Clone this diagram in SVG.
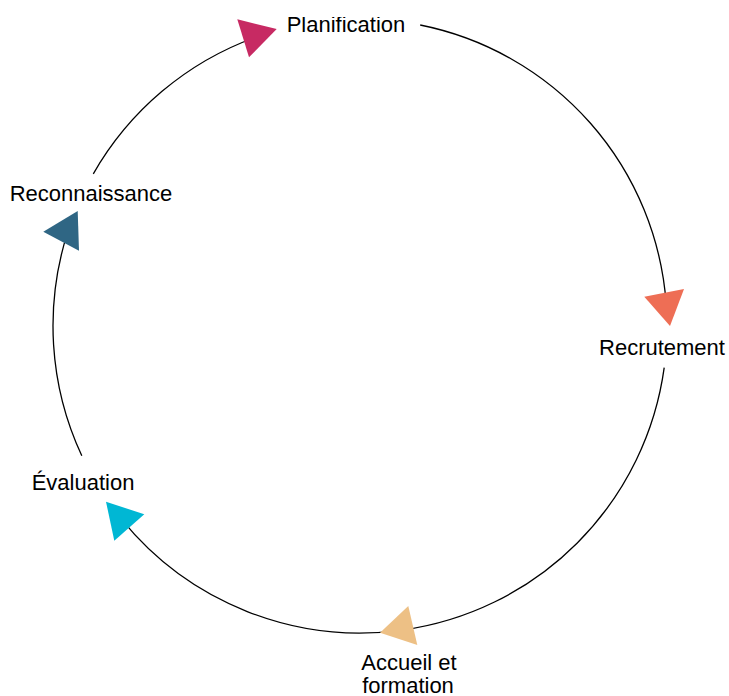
<svg xmlns="http://www.w3.org/2000/svg" width="729" height="696" viewBox="0 0 729 696">
  <style>
    .lbl { font-family: "Liberation Sans", Arial, sans-serif; font-size: 22px; fill: #000; text-anchor: middle; }
    .arc { fill: none; stroke: #000; stroke-width: 1.3; }
  </style>
  <defs>
    <clipPath id="topclip"><rect x="0" y="17" width="729" height="679"/></clipPath>
  </defs>
  <rect width="729" height="696" fill="#fff"/>
  <g id="connectors">
    <path class="arc" d="M420.2,25 A307,307 0 0 1 666.2,304"/>
    <path class="arc" d="M664.2,367.7 A307,307 0 0 1 402.2,630.1"/>
    <path class="arc" d="M402.2,630.1 A307,307 0 0 1 121.4,519.2"/>
    <path class="arc" d="M81.8,455.7 A307,307 0 0 1 68,231.1"/>
    <path class="arc" d="M93.3,173.9 A307,307 0 0 1 255,37.5"/>
    <polygon points="237.3,19.3 276.7,29 249,57.3" fill="#C72A63"/>
    <polygon points="644.3,296.7 684,289 670,326" fill="#EE6E55"/>
    <polygon points="380,632.7 408.3,606 417.3,645" fill="#EDC085"/>
    <polygon points="106,501.7 144.3,514.3 114.3,540.7" fill="#00B7D4"/>
    <polygon points="43.3,231.7 77.7,211 79,250.7" fill="#2F6684"/>
  </g>
  <g id="planification"><text class="lbl" x="346" y="32" clip-path="url(#topclip)">Planification</text></g>
  <g id="recrutement"><text class="lbl" x="662" y="355">Recrutement</text></g>
  <g id="accueil"><text class="lbl" x="409" y="670">Accueil et</text><text class="lbl" x="408" y="693">formation</text></g>
  <g id="evaluation"><text class="lbl" x="83" y="490">Évaluation</text></g>
  <g id="reconnaissance"><text class="lbl" x="91" y="201">Reconnaissance</text></g>
</svg>
